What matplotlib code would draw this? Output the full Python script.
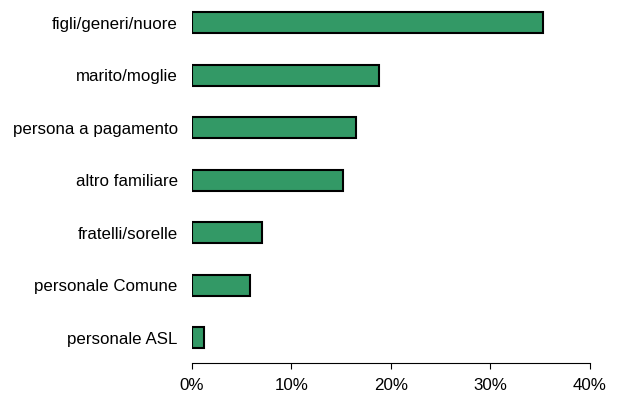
import matplotlib.pyplot as plt
from matplotlib.ticker import FuncFormatter

categories = ["figli/generi/nuore", "marito/moglie", "persona a pagamento",
              "altro familiare", "fratelli/sorelle", "personale Comune",
              "personale ASL"]
values = [35.3, 18.8, 16.5, 15.2, 7.1, 5.9, 1.2]
x_ticks = [0, 10, 20, 30, 40]

plt.rcParams['font.family'] = ['Liberation Sans', 'DejaVu Sans']

fig = plt.figure(figsize=(6.18, 3.94), dpi=100)
ax = fig.add_axes([191.7 / 618, (394 - 362.7) / 394, (590 - 191.7) / 618, 362.7 / 394])

pos = list(range(len(categories)))
ax.barh(pos, values, height=0.4, color="#339966", edgecolor="black", linewidth=1.5)

ax.set_ylim(6.48, 6.48 - 6.909)
ax.set_xlim(0, 40)
ax.set_yticks(pos)
ax.set_yticklabels(categories, fontsize=12.2)
ax.set_xticks(x_ticks)
ax.xaxis.set_major_formatter(FuncFormatter(lambda v, p: "%d%%" % v))

for side in ["top", "right", "left"]:
    ax.spines[side].set_visible(False)
ax.spines["bottom"].set_linewidth(0.8)
ax.tick_params(axis="y", length=0, pad=10)
ax.tick_params(axis="x", length=4, width=0.8, labelsize=12.2, pad=7)

fig.savefig("out.png", dpi=100)
